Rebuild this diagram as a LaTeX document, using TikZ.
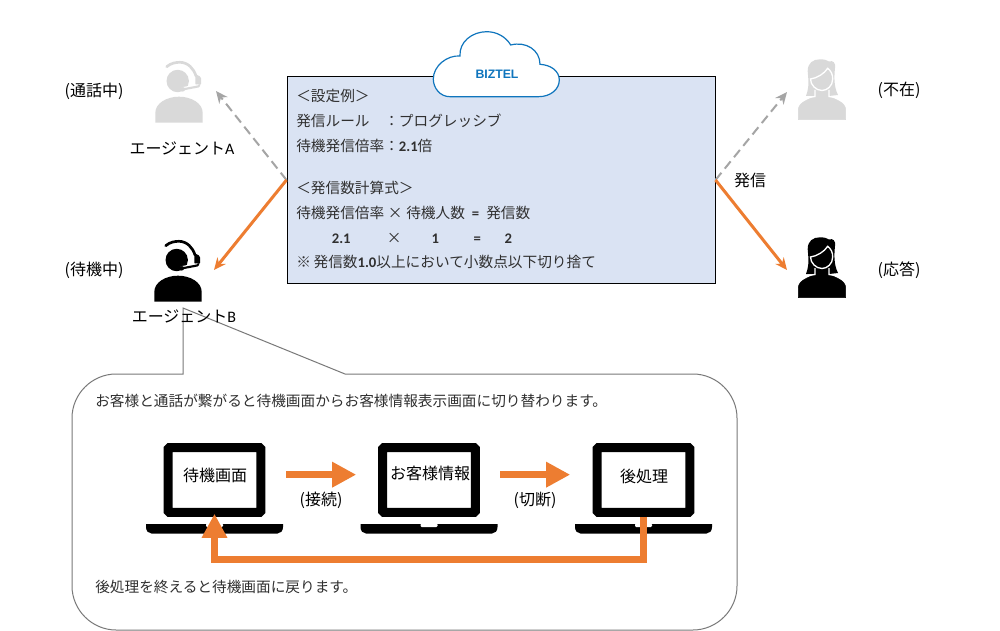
\documentclass[tikz,border=0pt]{standalone}
\usepackage{fontspec}
\setmainfont{Noto Sans CJK JP}
\newfontfamily\latf{Carlito}
\newfontfamily\bizf{Liberation Sans}
\usetikzlibrary{arrows.meta}
\definecolor{orangeline}{HTML}{ED7D31}
\definecolor{grayline}{HTML}{A5A5A5}
\definecolor{iconoff}{HTML}{D9D9D9}
\definecolor{boxfill}{HTML}{DAE3F3}
\definecolor{cloudblue}{HTML}{0F75BD}
\definecolor{bodytext}{HTML}{303030}
\newcommand{\dg}[1]{{\latf\bfseries #1}}
\newcommand{\lt}[1]{{\latf #1}}
\tikzset{
  x=0.75pt, y=-0.75pt,
  labeltext/.style={inner sep=0pt, font=\fontsize{12pt}{14pt}\selectfont, text=black},
  smalltext/.style={inner sep=0pt, anchor=west, font=\fontsize{11pt}{13pt}\selectfont, text=bodytext},
  iconslot/.style={inner sep=0pt, minimum width=36pt, minimum height=45pt},
  screen/.style={draw=black, fill=white, line width=6.75pt, rounded corners=0.7pt,
     minimum width=69.4pt, minimum height=48.4pt, inner sep=0pt},
  dashline/.style={draw=grayline, line width=1.5pt, dashed, dash pattern=on 7pt off 4pt,
     -{Stealth[length=9pt,width=8pt]}},
  orangearrow/.style={draw=orangeline, line width=2.25pt, -{Stealth[length=9pt,width=8pt]}},
  blockarrow/.style={draw=orangeline, line width=5.6pt, -{Triangle[length=18pt,width=18pt]}},
  pics/agenticon/.style={code={
    \fill[#1] (-23.7,31.7) -- (-23.7,22) .. controls (-23.7,12) and (-12,5.7) .. (0,5.7)
       .. controls (12,5.7) and (23.7,12) .. (23.7,22) -- (23.7,31.7) -- cycle;
    \fill[#1] (-1.3,-10) circle[radius=8.4pt];
    \draw[#1, line width=2pt, line cap=round] (-12.3,-24.3) .. controls (-8,-28) and (-3,-28.7) .. (1,-28.7)
       .. controls (9,-28.7) and (15,-22) .. (17,-15);
    \fill[#1, rounded corners=1pt] (16.3,-17) -- (22,-14) -- (22,-5.7) -- (16.3,-5.7) -- cycle;
    \draw[white, line width=3.4pt, line cap=round] (19,-4.5) -- (4.3,-1.7);
    \draw[#1, line width=1.6pt, line cap=round] (20.3,-5.7) -- (19,-4.5) -- (4.3,-1.7);
    \fill[#1] (3.8,-1.7) circle[radius=1.7pt];
  }},
  pics/womanicon/.style={code={
    \fill[#1] (-16,6) .. controls (-12,-5) and (-14,-12) .. (-14.3,-19)
       .. controls (-14.3,-27) and (-9,-30.7) .. (-2,-30.7)
       .. controls (2,-30.7) and (5,-30) .. (7,-28.5)
       .. controls (11,-30) and (14,-27) .. (13,-22)
       .. controls (12,-12) and (12,-3) .. (16,5) -- (7,6) -- (-7,6) -- cycle;
    \draw[#1!100, fill=#1] (-23.7,29.7) -- (-23.7,20) .. controls (-23.7,12) and (-12,9) .. (-7,6.5)
       -- (7,6.5) .. controls (12,9) and (23.7,12) .. (23.7,20) -- (23.7,29.7) -- cycle;
    \draw[white, line width=1pt] (-18,8) -- (-7,6.5) -- (-7,0) (18,8) -- (7,6.5) -- (7,0);
    \draw[white, line width=1pt, fill=#1] (-11.5,-11) .. controls (-5,-12) and (2,-16) .. (5.7,-21.7)
       .. controls (9,-19) and (10.7,-16) .. (10.7,-11)
       .. controls (10.7,-4) and (5,0.5) .. (0,0.5)
       .. controls (-6,0.5) and (-11.5,-5) .. (-11.5,-11) -- cycle;
  }},
  pics/laptopbase/.style={code={
    \fill[black] (-68.5,44) -- (68.5,44) -- (68.5,47) .. controls (68.5,51) and (66,53.5) .. (63,53.5)
       -- (-63,53.5) .. controls (-66,53.5) and (-68.5,51) .. (-68.5,47) -- cycle;
    \fill[white, rounded corners=0.8pt] (-8.5,43.5) -- (8.5,43.5) -- (8.5,47) -- (-8.5,47) -- cycle;
  }},
}
\begin{document}
\begin{tikzpicture}
\useasboundingbox (0,0) rectangle (1000,631);
\fill[white] (0,0) rectangle (1000,631);

% callout
\draw[draw=gray!95!black, line width=0.75pt, fill=white]
  (116,374) -- (183,374) -- (183,308) -- (345,374) -- (693,374)
  .. controls (717,374) and (737,394) .. (737,418) -- (737,586)
  .. controls (737,610) and (717,630) .. (693,630) -- (116,630)
  .. controls (92,630) and (72,610) .. (72,586) -- (72,418)
  .. controls (72,394) and (92,374) .. (116,374) -- cycle;
\node[smalltext] (calltop) at (95,401) {お客様と通話が繋がると待機画面からお客様情報表示画面に切り替わります。};
\node[smalltext] (callbot) at (95,587) {後処理を終えると待機画面に戻ります。};

% central box
\node[draw=black, fill=boxfill, line width=0.75pt, minimum width=321pt, minimum height=154.5pt, inner sep=0pt] (box) at (501,180) {};
\node[smalltext] (l1) at (296,96) {＜設定例＞};
\node[smalltext] (l2) at (296,121) {発信ルール　：プログレッシブ};
\node[smalltext] (l3) at (296,146) {待機発信倍率：\dg{2.1}倍};
\node[smalltext] (l4) at (296,188) {＜発信数計算式＞};
\node[smalltext] (l5) at (296,213) {待機発信倍率\makebox[16.5pt]{×}待機人数\makebox[16pt]{\dg{=}}発信数};
\node[smalltext] (l6) at (296,238) {\makebox[67.5pt]{\dg{2.1}}\makebox[12pt]{×}\makebox[49.5pt]{\dg{1}}\makebox[13.5pt]{\dg{=}}\makebox[33pt]{\dg{2}}};
\node[smalltext] (l7) at (296,262) {※\hspace{2pt}発信数\dg{1.0}以上において小数点以下切り捨て};

% cloud
\draw[draw=cloudblue, line width=0.9pt, fill=white]
  (450,96.7) .. controls (440,96.7) and (433.3,88) .. (433.3,79)
  .. controls (433.3,66) and (447,55) .. (460,56)
  .. controls (459,42) and (472,31.7) .. (486.7,31.7)
  .. controls (497,31.7) and (506,37) .. (510.7,45)
  .. controls (526,41) and (540,50) .. (540,64.3)
  .. controls (551,65) and (559.3,71) .. (559.3,80)
  .. controls (559.3,89) and (551,96.7) .. (538.3,96.7) -- cycle;
\node[inner sep=0pt, text=cloudblue, font=\bizf\bfseries\fontsize{9.2pt}{11pt}\selectfont] (biztel) at (497,74.5) {BIZTEL};

% people
\node[iconslot] (agentA) at (179,91) {};
\node[iconslot] (agentB) at (178,270) {};
\node[iconslot] (womanA) at (822,90) {};
\node[iconslot] (womanB) at (822,268) {};
\pic at (agentA) {agenticon=iconoff};
\pic at (agentB) {agenticon=black};
\pic at (womanA) {womanicon=iconoff};
\pic at (womanB) {womanicon=black};

\node[labeltext] (stA) at (94,91) {(通話中)};
\node[labeltext] (stB) at (94,270) {(待機中)};
\node[labeltext] (nameA) at (182,148) {エージェント\lt{A}};
\node[labeltext] (nameB) at (184,316) {エージェント\lt{B}};
\node[labeltext] (stC) at (899,90) {(不在)};
\node[labeltext] (stD) at (899,270) {(応答)};
\node[labeltext] (call) at (750,180) {発信};

% call arrows
\coordinate (tipA) at (216,91);
\coordinate (tipB) at (214,270);
\coordinate (tipC) at (787,92);
\coordinate (tipD) at (787,270);
\draw[dashline] (box.west) -- (tipA);
\draw[dashline] (box.east) -- (tipC);
\draw[orangearrow] (box.west) -- (tipB);
\draw[orangearrow] (box.east) -- (tipD);

% laptops
\node[screen] (s1) at (214.5,480) {};
\node[screen] (s2) at (429,480) {};
\node[screen] (s3) at (643.5,480) {};
\pic at (s1) {laptopbase};
\pic at (s2) {laptopbase};
\pic at (s3) {laptopbase};
\node[labeltext] (t1) at (215,475) {待機画面};
\node[labeltext] (t2) at (430,473) {お客様情報};
\node[labeltext] (t3) at (644,476) {後処理};
\node[labeltext] (c1) at (321,500) {(接続)};
\node[labeltext] (c2) at (535,500) {(切断)};

% process arrows
\draw[blockarrow] ([xshift=15.75pt,yshift=4pt]s1.east) -- ([xshift=-16.5pt,yshift=4pt]s2.west);
\draw[blockarrow] ([xshift=15.4pt,yshift=4pt]s2.east) -- ([xshift=-16.9pt,yshift=4pt]s3.west);
\coordinate (ret) at (430,559.5);
\draw[blockarrow] (s3.south) |- (ret) -| ([yshift=2.25pt]s1.south);
\end{tikzpicture}
\end{document}
